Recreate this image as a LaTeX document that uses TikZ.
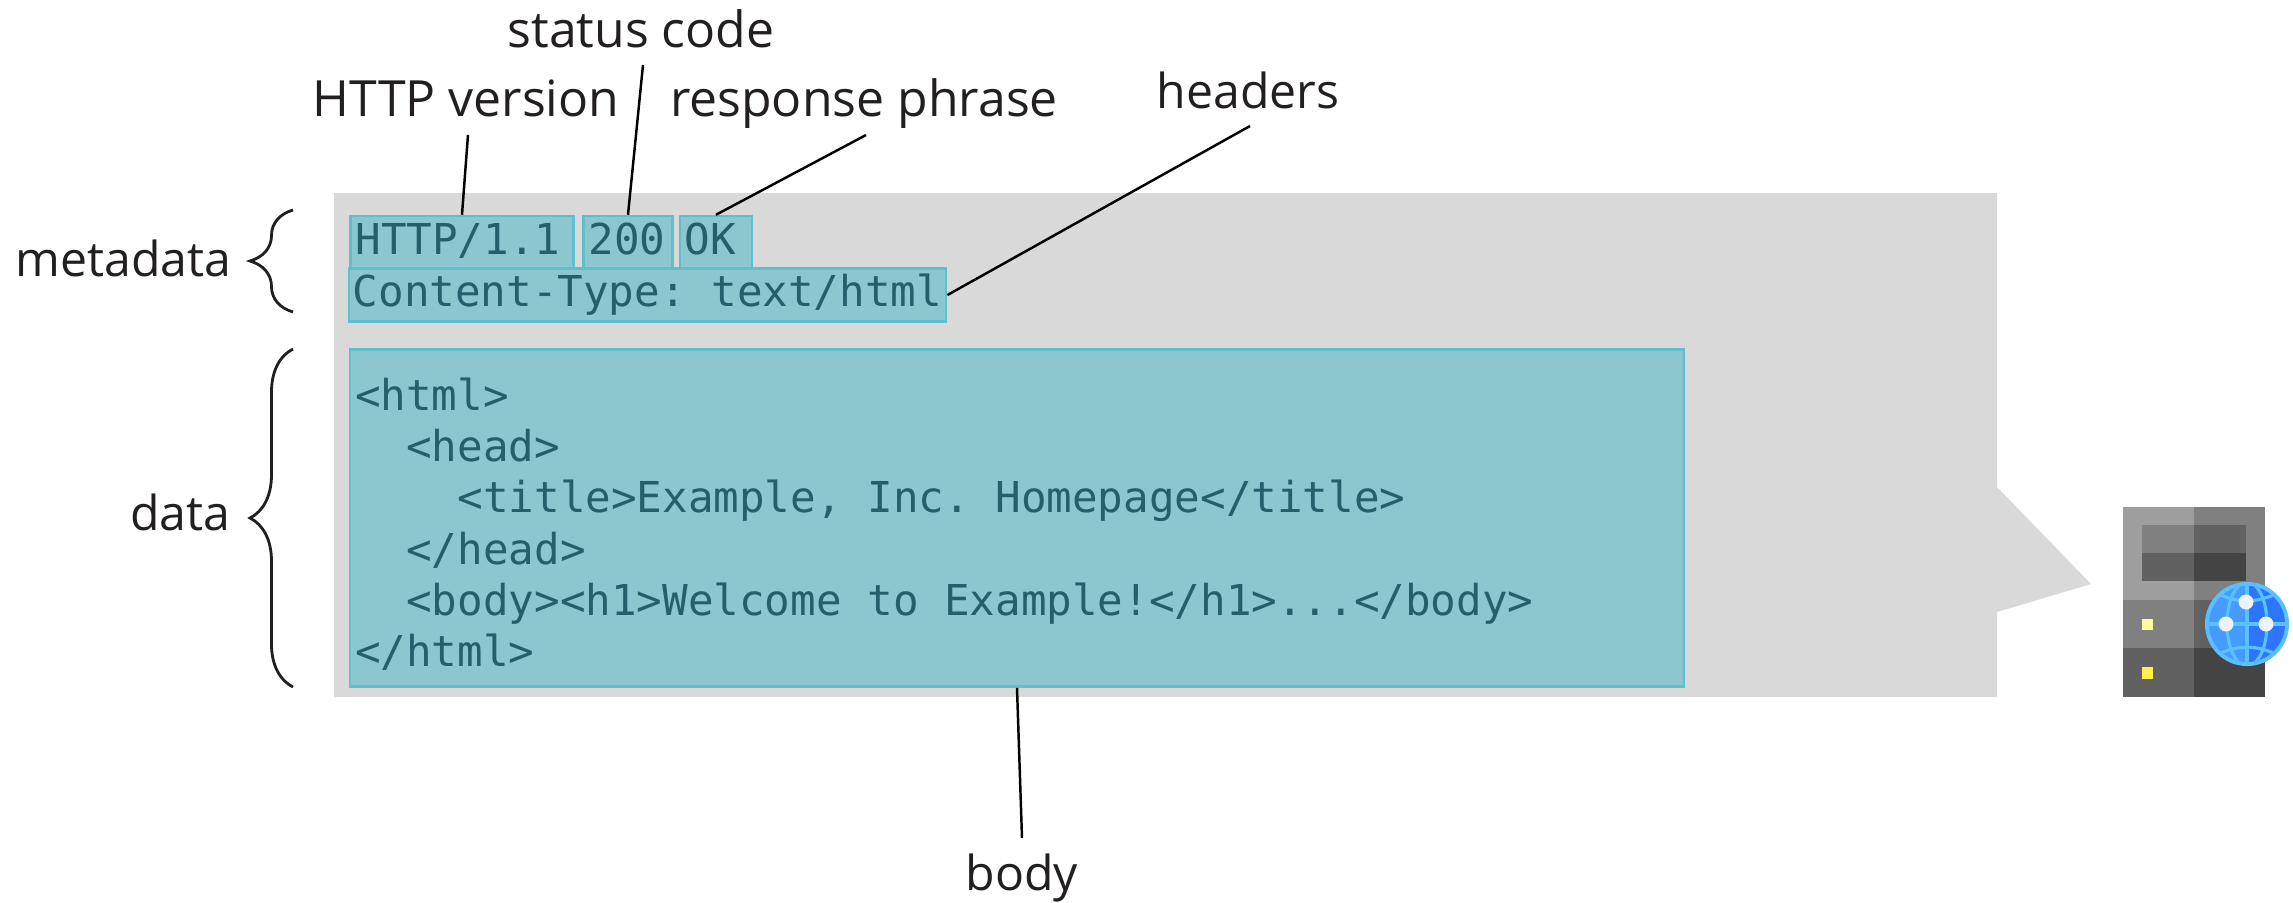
\documentclass[tikz,border=0pt]{standalone}
\usepackage{fontspec}
\setmainfont{Open Sans}
\setmonofont{DejaVu Sans Mono}
\usetikzlibrary{decorations.pathreplacing}
\definecolor{msggray}{HTML}{D9D9D9}
\definecolor{fieldfill}{HTML}{8CC7D0}
\definecolor{fieldline}{HTML}{5FBFCC}
\definecolor{fieldtext}{HTML}{245F6B}
\definecolor{labeltext}{HTML}{231F20}
\definecolor{srvA}{HTML}{9E9E9E}
\definecolor{srvB}{HTML}{808080}
\definecolor{srvC}{HTML}{616161}
\definecolor{srvD}{HTML}{444444}
\definecolor{ledA}{HTML}{FFFCA0}
\definecolor{ledB}{HTML}{FFF04A}
\definecolor{globeA}{HTML}{5AC0FF}
\definecolor{globeB}{HTML}{459BFF}
\definecolor{globeC}{HTML}{2C75FF}
\definecolor{globedot}{HTML}{EEF3FB}
\tikzset{
  x=0.01cm,y=-0.01cm,
  field/.style={draw=fieldline,fill=fieldfill,line width=0.7pt,inner xsep=0.05cm,inner ysep=0pt,text=fieldtext,
    font=\ttfamily\fontsize{12.1}{14.6}\selectfont,text height=8pt,text depth=1.5pt,align=flush left},
  firstrow/.style={field,text height=8.5pt,text depth=1.3pt,minimum height=0.52cm},
  lbl/.style={text=labeltext,inner sep=0pt,anchor=base,font=\fontsize{13.7}{16}\selectfont},
  biglbl/.style={lbl,font=\fontsize{14.2}{16}\selectfont},
  lead/.style={line width=0.7pt,black},
  curly/.style={line width=0.8pt,labeltext,decorate,decoration={brace,amplitude=0.43cm}},
  globeline/.style={globeA,line width=0.9pt}
}
\begin{document}
\begin{tikzpicture}
  \useasboundingbox (0,0) rectangle (2293,902);
  \fill[msggray] (334,193) -- (1997,193) -- (1997,487) -- (2091,584) -- (1997,612) -- (1997,697) -- (334,697) -- cycle;

  \node[firstrow,text width=2.13cm] (version) at (462,242) {HTTP/1.1};
  \node[firstrow,text width=0.79cm] (status) at (628,242) {200};
  \node[firstrow,text width=0.62cm] (phrase) at (716,242) {OK};
  \node[field,inner xsep=0.04cm,text width=5.89cm,minimum height=0.53cm] (header) at (647.5,295) {Content-Type:~text/html};
  \node[field,text width=13.23cm,minimum height=3.37cm,text height=,text depth=] (body) at (1017,518) {%
    \rule{0pt}{12.7pt}<html>\\
    ~~<head>\\
    ~~~~<title>Example, Inc. Homepage</title>\\
    ~~</head>\\
    ~~<body><h1>Welcome to Example!</h1>...</body>\\
    </html>};

  \node[biglbl] (versionlbl) at (466,116) {HTTP version};
  \node[biglbl] (statuslbl) at (641,47) {status code};
  \node[biglbl] (phraselbl) at (864,116) {response phrase};
  \node[lbl] (headerlbl) at (1248,108) {headers};
  \node[lbl] (bodylbl) at (1022,890) {body};
  \node[lbl,anchor=base east] (metalbl) at (232,276) {metadata};
  \node[lbl,anchor=base east] (datalbl) at (231,530) {data};

  \coordinate (versionend) at (468,135);
  \coordinate (statusend) at (643,65);
  \coordinate (phraseend) at (866,135);
  \coordinate (headerend) at (1250,126);
  \coordinate (bodyend) at (1022,838);
  \draw[lead] (versionend) -- (version.north);
  \draw[lead] (statusend) -- (status.north);
  \draw[lead] (phraseend) -- (phrase.north);
  \draw[lead] (headerend) -- (header.east);
  \draw[lead] (bodyend) -- (body.south);

  \coordinate (metatop) at (293,210);
  \coordinate (metabot) at (293,312);
  \coordinate (datatop) at (293,349);
  \coordinate (databot) at (293,687);
  \draw[curly] (metabot) -- (metatop);
  \draw[curly] (databot) -- (datatop);

  % server
  \fill[srvA] (2123,507) rectangle (2194,600);
  \fill[srvB] (2194,507) rectangle (2265,600);
  \fill[srvB] (2142,525) rectangle (2194,553);
  \fill[srvC] (2194,525) rectangle (2246,553);
  \fill[srvC] (2142,553) rectangle (2194,581);
  \fill[srvD] (2194,553) rectangle (2246,581);
  \fill[srvB] (2123,600) rectangle (2194,648);
  \fill[srvC] (2194,600) rectangle (2265,648);
  \fill[srvC] (2123,648) rectangle (2194,697);
  \fill[srvD] (2194,648) rectangle (2265,697);
  \fill[ledA] (2142,619) rectangle (2153,630);
  \fill[ledB] (2142,667) rectangle (2153,679);

  % globe
  \fill[globeA] (2247,624) circle (0.42cm);
  \begin{scope}
    \clip (2247,624) circle (0.38cm);
    \fill[globeB] (2205,582) rectangle (2247,666);
    \fill[globeC] (2247,582) rectangle (2289,666);
    \draw[globeline] (2247,582) -- (2247,666);
    \draw[globeline] (2205,624) -- (2289,624);
    \draw[globeline] (2205,585) .. controls (2230,606) and (2264,606) .. (2289,585);
    \draw[globeline] (2205,663) .. controls (2230,642) and (2264,642) .. (2289,663);
    \draw[globeline] (2247,624) ellipse (0.2cm and 0.42cm);
  \end{scope}
  \foreach \dx/\dy in {2246/602,2226/624,2266/624}
    \fill[globedot] (\dx,\dy) circle (0.075cm);
\end{tikzpicture}
\end{document}
